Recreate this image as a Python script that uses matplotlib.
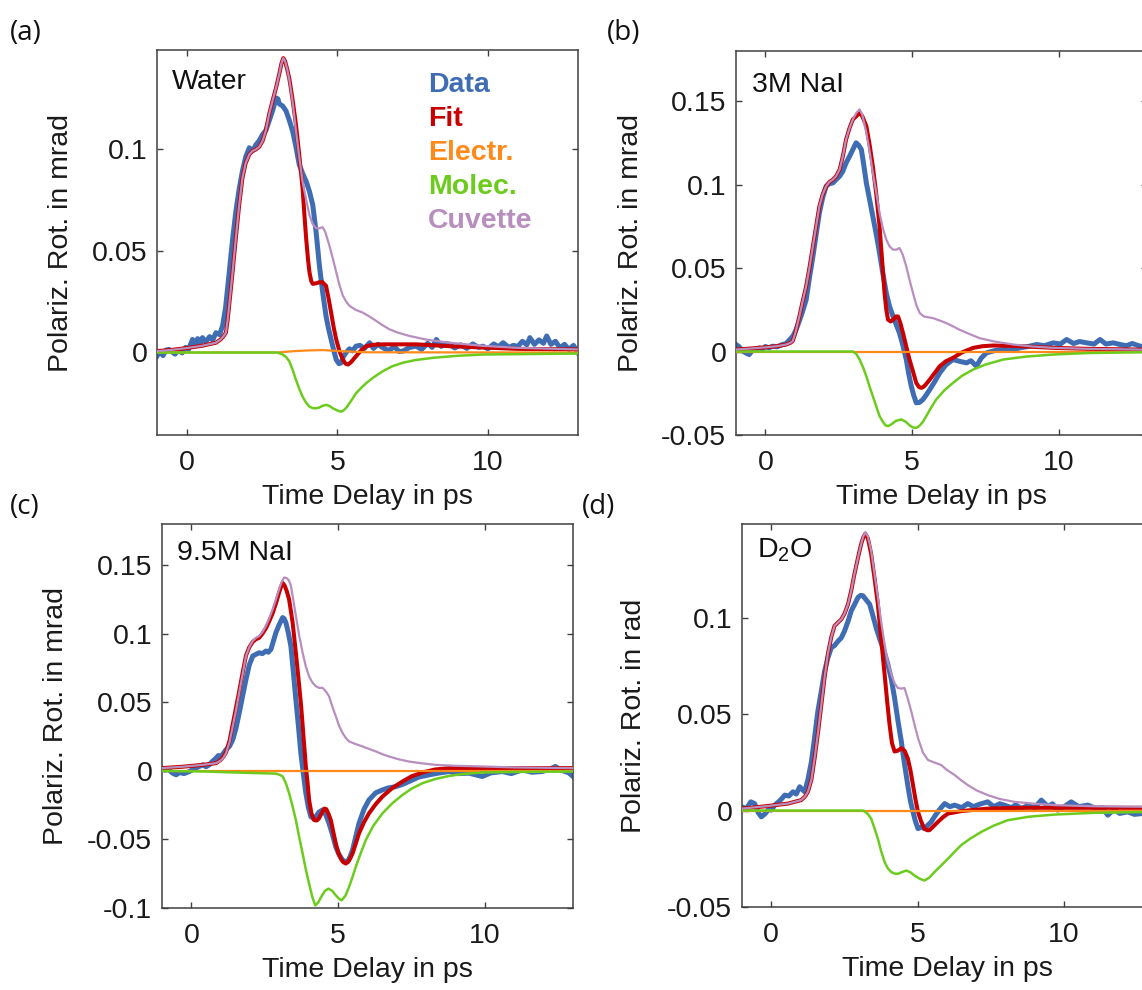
import matplotlib
matplotlib.use("Agg")
import matplotlib.pyplot as plt

plt.rcParams['font.family'] = ['Liberation Sans', 'DejaVu Sans']
plt.rcParams['mathtext.fontset'] = 'custom'
plt.rcParams['mathtext.rm'] = 'Liberation Sans'

# ---------------- Panel (a): Water ----------------
a_t_data = [-1.0, -0.9, -0.8, -0.7, -0.6, -0.5, -0.4, -0.3, -0.16, -0.05, 0.05, 0.18, 0.28, 0.35, 0.45, 0.51,
            0.62, 0.75, 0.85, 0.96, 1.08, 1.18, 1.28, 1.40, 1.51, 1.62, 1.73, 1.84, 1.95, 2.07, 2.18, 2.29,
            2.4, 2.51, 2.62, 2.73, 2.85, 2.96, 3.02, 3.07, 3.18, 3.29, 3.40, 3.51, 3.62, 3.73, 3.84, 3.96,
            4.07, 4.18, 4.29, 4.40, 4.51, 4.62, 4.70, 4.79, 4.88, 4.96, 5.05, 5.12, 5.2, 5.29, 5.4, 5.5,
            5.62, 5.75, 5.9, 6.07, 6.2, 6.35, 6.51, 6.7, 6.9, 7.05, 7.18, 7.4, 7.62, 7.8, 8.0, 8.15, 8.29,
            8.45, 8.6, 8.73, 8.9, 9.1, 9.3, 9.5, 9.7, 9.84, 10.0, 10.2, 10.35, 10.51, 10.7, 10.85, 11.0,
            11.15, 11.3, 11.4, 11.55, 11.7, 11.85, 11.96, 12.1, 12.25, 12.4, 12.55, 12.7, 12.85, 13.0]
a_v_data = [-0.0018, 0.0005, -0.0015, 0.0012, 0.0015, 0.0003, -0.0008, 0.0010, -0.0002, 0.0025, 0.0015, 0.0064,
            0.0040, 0.0068, 0.0045, 0.0073, 0.0052, 0.0078, 0.0060, 0.0097, 0.0088, 0.0130, 0.0220, 0.0390,
            0.0550, 0.0690, 0.0800, 0.0890, 0.0960, 0.1005, 0.0990, 0.1020, 0.1040, 0.1070, 0.1090, 0.1137,
            0.1190, 0.1250, 0.1245, 0.1220, 0.1210, 0.1186, 0.1140, 0.1087, 0.1010, 0.0922, 0.0880, 0.0840,
            0.0790, 0.0724, 0.0592, 0.0427, 0.0295, 0.0180, 0.0120, 0.0064, 0.0010, -0.0035, -0.0055, -0.0051,
            -0.0020, 0.0000, 0.0018, 0.0008, 0.0031, 0.0035, 0.0020, 0.0048, 0.0020, 0.0040, 0.0023, 0.0010,
            0.0028, 0.0005, 0.0007, 0.0025, 0.0031, 0.0015, 0.0045, 0.0025, 0.0064, 0.0030, 0.0045, 0.0040,
            0.0022, 0.0038, 0.0020, 0.0042, 0.0025, 0.0031, 0.0018, 0.0042, 0.0028, 0.0048, 0.0025, 0.0035,
            0.0030, 0.0055, 0.0038, 0.0073, 0.0040, 0.0062, 0.0045, 0.0081, 0.0040, 0.0055, 0.0023, 0.0040,
            0.0015, 0.0035, -0.0002]
a_t_fit = [-1.0, -0.5, 0.0, 0.5, 0.96, 1.1, 1.2, 1.29, 1.35, 1.42, 1.51, 1.62, 1.73, 1.84, 1.95, 2.07, 2.18, 2.29,
           2.4, 2.51, 2.62, 2.73, 2.85, 2.96, 3.07, 3.14, 3.20, 3.26, 3.33, 3.40, 3.51, 3.62, 3.73, 3.84, 3.90,
           3.96, 4.02, 4.07, 4.13, 4.18, 4.3, 4.40, 4.5, 4.62, 4.7, 4.79, 4.88, 4.96, 5.07, 5.18, 5.27, 5.35,
           5.45, 5.62, 5.8, 5.96, 6.2, 6.51, 7.62, 8.73, 10.96, 13.0]
a_v_fit = [0.0007, 0.0013, 0.0022, 0.0033, 0.0048, 0.0062, 0.0078, 0.0097, 0.0160, 0.0260, 0.0390, 0.0560,
           0.0720, 0.0856, 0.0930, 0.0972, 0.0990, 0.0997, 0.1010, 0.1038, 0.1090, 0.1170, 0.1240, 0.1300,
           0.1370, 0.1420, 0.1445, 0.1430, 0.1390, 0.1345, 0.1240, 0.1120, 0.0970, 0.0807, 0.0680, 0.0560,
           0.0460, 0.0394, 0.0350, 0.0337, 0.0340, 0.0345, 0.0345, 0.0328, 0.0270, 0.0196, 0.0120, 0.0064,
           0.0005, -0.0035, -0.0055, -0.0059, -0.0048, -0.0018, 0.0012, 0.0031, 0.0038, 0.0040, 0.0040,
           0.0031, 0.0018, 0.0015]
a_t_elec = [-1.0, 3.0, 3.5, 4.0, 4.5, 5.2, 6.0, 13.0]
a_v_elec = [0.0, 0.0, 0.0006, 0.0010, 0.0012, 0.0006, 0.0001, 0.0]
a_t_mol = [-1.0, 3.0, 3.18, 3.29, 3.40, 3.51, 3.62, 3.73, 3.84, 3.96, 4.07, 4.18, 4.29, 4.4, 4.5, 4.62, 4.73,
           4.85, 4.96, 5.05, 5.12, 5.2, 5.30, 5.40, 5.51, 5.62, 5.8, 5.96, 6.2, 6.51, 6.8, 7.18, 7.6, 8.18,
           9.0, 9.84, 13.0]
a_v_mol = [0.0, 0.0, -0.0010, -0.0022, -0.0043, -0.0085, -0.0134, -0.0178, -0.0216, -0.0247, -0.0266, -0.0273,
           -0.0274, -0.0270, -0.0262, -0.0257, -0.0262, -0.0274, -0.0282, -0.0288, -0.0290, -0.0285, -0.0270,
           -0.0249, -0.0225, -0.0200, -0.0172, -0.0150, -0.0122, -0.0092, -0.0069, -0.0050, -0.0037, -0.0026,
           -0.0016, -0.0010, -0.0005]
a_t_cuv = [-1.0, -0.5, 0.0, 0.5, 0.96, 1.1, 1.2, 1.29, 1.35, 1.42, 1.51, 1.62, 1.73, 1.84, 1.95, 2.07, 2.18, 2.29,
           2.4, 2.51, 2.62, 2.73, 2.85, 2.96, 3.07, 3.14, 3.20, 3.26, 3.33, 3.40, 3.51, 3.62, 3.73, 3.84, 3.96,
           4.07, 4.18, 4.29, 4.40, 4.51, 4.6, 4.73, 4.85, 4.96, 5.07, 5.18, 5.29, 5.40, 5.6, 5.84, 6.05, 6.29,
           6.5, 6.73, 7.0, 7.4, 8.0, 8.73, 9.8, 10.96, 13.0]
a_v_cuv = [0.0007, 0.0013, 0.0022, 0.0033, 0.0048, 0.0062, 0.0078, 0.0097, 0.0160, 0.0260, 0.0390, 0.0560,
           0.0720, 0.0856, 0.0930, 0.0972, 0.0990, 0.0997, 0.1010, 0.1038, 0.1090, 0.1170, 0.1240, 0.1300,
           0.1370, 0.1420, 0.1445, 0.1430, 0.1390, 0.1340, 0.1230, 0.1090, 0.0960, 0.0840, 0.0750, 0.0675,
           0.0630, 0.0610, 0.0610, 0.0615, 0.0590, 0.0526, 0.0460, 0.0394, 0.0330, 0.0279, 0.0250, 0.0229,
           0.0210, 0.0196, 0.0178, 0.0155, 0.0134, 0.0114, 0.0098, 0.0081, 0.0062, 0.0048, 0.0033, 0.0023,
           0.0015]

# ---------------- Panel (b): 3M NaI ----------------
b_t_data = [-1.0, -0.9, -0.77, -0.65, -0.55, -0.45, -0.35, -0.2, -0.1, 0.0, 0.12, 0.25, 0.4, 0.55, 0.71, 0.85,
            0.95, 1.05, 1.15, 1.25, 1.39, 1.5, 1.62, 1.73, 1.84, 1.95, 2.07, 2.18, 2.30, 2.41, 2.53, 2.64, 2.75,
            2.87, 2.98, 3.09, 3.18, 3.27, 3.35, 3.44, 3.55, 3.66, 3.78, 3.89, 4.0, 4.12, 4.23, 4.35, 4.46, 4.57,
            4.68, 4.80, 4.88, 4.97, 5.05, 5.14, 5.25, 5.37, 5.48, 5.60, 5.77, 5.94, 6.15, 6.39, 6.6, 6.85, 7.0,
            7.19, 7.35, 7.53, 7.8, 8.10, 8.4, 8.67, 8.95, 9.24, 9.5, 9.81, 10.05, 10.26, 10.5, 10.7, 10.94, 11.2,
            11.40, 11.6, 11.85, 12.08, 12.3, 12.5, 12.76, 13.0]
b_v_data = [0.0042, 0.0030, 0.0002, -0.0010, -0.0018, 0.0005, 0.0012, 0.0022, 0.0015, 0.0030, 0.0022, 0.0032,
            0.0028, 0.0040, 0.0048, 0.0075, 0.0095, 0.0132, 0.0180, 0.0230, 0.0310, 0.0440, 0.0570, 0.0700,
            0.0830, 0.0920, 0.0990, 0.1005, 0.1010, 0.1030, 0.1050, 0.1080, 0.1130, 0.1170, 0.1210, 0.1250,
            0.1235, 0.1210, 0.1120, 0.1010, 0.0910, 0.0810, 0.0700, 0.0590, 0.0470, 0.0350, 0.0270, 0.0210,
            0.0160, 0.0110, 0.0040, -0.0048, -0.0130, -0.0208, -0.0260, -0.0307, -0.0305, -0.0287, -0.0260,
            -0.0228, -0.0180, -0.0128, -0.0080, -0.0048, -0.0058, -0.0068, -0.0055, -0.0088, -0.0040, -0.0008,
            0.0005, 0.0012, 0.0008, 0.0022, 0.0030, 0.0042, 0.0035, 0.0052, 0.0045, 0.0072, 0.0048, 0.0060,
            0.0052, 0.0045, 0.0072, 0.0045, 0.0052, 0.0042, 0.0035, 0.0048, 0.0032, 0.0030]
b_t_fit = [-1.0, -0.5, 0.0, 0.4, 0.71, 0.85, 0.93, 1.02, 1.16, 1.27, 1.39, 1.5, 1.62, 1.73, 1.84, 1.95, 2.07, 2.18,
           2.30, 2.41, 2.53, 2.64, 2.75, 2.87, 2.98, 3.1, 3.21, 3.3, 3.44, 3.55, 3.66, 3.78, 3.89, 3.98, 4.06,
           4.12, 4.18, 4.27, 4.35, 4.45, 4.52, 4.6, 4.69, 4.8, 4.91, 5.03, 5.14, 5.23, 5.31, 5.4, 5.5, 5.60,
           5.77, 5.94, 6.15, 6.39, 6.7, 7.08, 7.4, 7.76, 8.67, 9.81, 11.0, 13.0]
b_v_fit = [0.0012, 0.0018, 0.0025, 0.0032, 0.0042, 0.0052, 0.0062, 0.0110, 0.0212, 0.0300, 0.0391, 0.0500,
           0.0631, 0.0750, 0.0870, 0.0940, 0.0990, 0.1015, 0.1030, 0.1050, 0.1090, 0.1170, 0.1270, 0.1340,
           0.1390, 0.1410, 0.1430, 0.1410, 0.1350, 0.1240, 0.1110, 0.0940, 0.0750, 0.0540, 0.0350, 0.0250,
           0.0190, 0.0180, 0.0190, 0.0210, 0.0210, 0.0170, 0.0110, 0.0030, -0.0048, -0.0120, -0.0188, -0.0212,
           -0.0218, -0.0210, -0.0190, -0.0168, -0.0128, -0.0088, -0.0058, -0.0038, -0.0005, 0.0022, 0.0032,
           0.0036, 0.0032, 0.0022, 0.0016, 0.0011]
b_t_elec = [-1.0, 13.0]
b_v_elec = [0.0, 0.0]
b_t_mol = [-1.0, 2.98, 3.1, 3.21, 3.33, 3.44, 3.55, 3.66, 3.78, 3.89, 4.0, 4.09, 4.18, 4.3, 4.45, 4.63, 4.78,
           4.92, 5.03, 5.14, 5.25, 5.37, 5.48, 5.65, 5.82, 6.1, 6.39, 6.7, 7.08, 7.5, 8.10, 8.9, 9.81, 11.0, 13.0]
b_v_mol = [0.0, 0.0, -0.0015, -0.0048, -0.0095, -0.0148, -0.0210, -0.0267, -0.0330, -0.0387, -0.0420, -0.0442,
           -0.0447, -0.0435, -0.0415, -0.0407, -0.0420, -0.0443, -0.0455, -0.0457, -0.0445, -0.0420, -0.0387,
           -0.0335, -0.0287, -0.0232, -0.0188, -0.0145, -0.0108, -0.0078, -0.0048, -0.0030, -0.0018, -0.0009,
           -0.0004]
b_t_cuv = [-1.0, -0.5, 0.0, 0.4, 0.71, 0.85, 0.93, 1.02, 1.16, 1.27, 1.39, 1.5, 1.62, 1.73, 1.84, 1.95, 2.07, 2.18,
           2.30, 2.41, 2.53, 2.64, 2.75, 2.87, 2.98, 3.1, 3.21, 3.3, 3.44, 3.55, 3.66, 3.78, 3.89, 4.0, 4.12,
           4.23, 4.35, 4.46, 4.57, 4.68, 4.80, 4.91, 5.03, 5.14, 5.26, 5.4, 5.71, 5.95, 6.17, 6.4, 6.62, 6.95,
           7.30, 7.8, 8.44, 9.1, 9.81, 11.0, 13.0]
b_v_cuv = [0.0012, 0.0018, 0.0025, 0.0032, 0.0042, 0.0052, 0.0062, 0.0110, 0.0212, 0.0300, 0.0391, 0.0500,
           0.0631, 0.0750, 0.0870, 0.0940, 0.0990, 0.1015, 0.1030, 0.1050, 0.1090, 0.1170, 0.1270, 0.1340,
           0.1390, 0.1430, 0.1450, 0.1420, 0.1310, 0.1200, 0.1070, 0.0950, 0.0830, 0.0740, 0.0670, 0.0630,
           0.0610, 0.0610, 0.0620, 0.0580, 0.0510, 0.0430, 0.0350, 0.0280, 0.0230, 0.0210, 0.0200, 0.0185,
           0.0170, 0.0150, 0.0130, 0.0105, 0.0080, 0.0060, 0.0042, 0.0030, 0.0022, 0.0016, 0.0011]

# ---------------- Panel (c): 9.5M NaI ----------------
c_t_data = [-1.0, -0.9, -0.8, -0.65, -0.52, -0.4, -0.25, -0.07, 0.05, 0.2, 0.39, 0.5, 0.61, 0.72, 0.84, 0.92,
            1.01, 1.1, 1.18, 1.3, 1.41, 1.52, 1.63, 1.75, 1.86, 1.97, 2.09, 2.2, 2.31, 2.42, 2.54, 2.62, 2.71,
            2.8, 2.88, 3.0, 3.11, 3.16, 3.22, 3.3, 3.39, 3.47, 3.56, 3.65, 3.73, 3.82, 3.90, 3.98, 4.07, 4.15,
            4.24, 4.35, 4.47, 4.58, 4.69, 4.8, 4.92, 5.03, 5.15, 5.24, 5.32, 5.4, 5.49, 5.6, 5.71, 5.88, 6.05,
            6.28, 6.51, 6.7, 6.96, 7.2, 7.41, 7.75, 8.10, 8.45, 8.78, 9.1, 9.46, 9.7, 9.91, 10.2, 10.59, 10.9,
            11.27, 11.6, 11.95, 12.2, 12.40, 12.6, 12.86, 13.0]
c_v_data = [0.0020, 0.0005, 0.0015, -0.0015, -0.0029, -0.0012, -0.0020, -0.0005, 0.0010, 0.0025, 0.0044, 0.0030,
            0.0044, 0.0070, 0.0093, 0.0112, 0.0105, 0.0130, 0.0154, 0.0180, 0.0227, 0.0310, 0.0422, 0.0550,
            0.0666, 0.0770, 0.0837, 0.0850, 0.0861, 0.0855, 0.0874, 0.0865, 0.0886, 0.0950, 0.1008, 0.1070,
            0.1118, 0.1110, 0.1081, 0.1010, 0.0910, 0.0730, 0.0520, 0.0320, 0.0129, -0.0030, -0.0163, -0.0260,
            -0.0334, -0.0345, -0.0334, -0.0300, -0.0285, -0.0320, -0.0383, -0.0460, -0.0554, -0.0610, -0.0651,
            -0.0660, -0.0664, -0.0630, -0.0578, -0.0480, -0.0383, -0.0280, -0.0212, -0.0160, -0.0139, -0.0125,
            -0.0115, -0.0098, -0.0078, -0.0045, -0.0029, -0.0015, -0.0005, -0.0020, -0.0017, -0.0030, -0.0041,
            -0.0015, -0.0005, -0.0020, 0.0007, -0.0010, -0.0005, 0.0012, 0.0032, 0.0005, -0.0015, -0.0041]
c_t_fit = [-1.0, -0.3, 0.39, 0.84, 1.0, 1.1, 1.18, 1.3, 1.41, 1.52, 1.63, 1.75, 1.86, 1.97, 2.09, 2.2, 2.31, 2.42,
           2.54, 2.65, 2.77, 2.88, 2.99, 3.05, 3.11, 3.18, 3.25, 3.33, 3.45, 3.56, 3.65, 3.74, 3.82, 3.90, 3.96,
           4.01, 4.09, 4.18, 4.27, 4.35, 4.46, 4.53, 4.6, 4.68, 4.75, 4.84, 4.92, 5.0, 5.09, 5.17, 5.26, 5.37,
           5.49, 5.6, 5.71, 5.88, 6.05, 6.28, 6.51, 6.85, 7.19, 7.5, 7.87, 8.3, 8.78, 13.0]
c_v_fit = [0.0020, 0.0030, 0.0044, 0.0056, 0.0080, 0.0105, 0.0135, 0.0220, 0.0340, 0.0460, 0.0580, 0.0720,
           0.0840, 0.0900, 0.0940, 0.0960, 0.0970, 0.1000, 0.1040, 0.1090, 0.1150, 0.1220, 0.1300, 0.1340,
           0.1370, 0.1350, 0.1310, 0.1250, 0.1080, 0.0861, 0.0670, 0.0471, 0.0250, 0.0032, -0.0090, -0.0212,
           -0.0310, -0.0359, -0.0362, -0.0346, -0.0300, -0.0275, -0.0280, -0.0318, -0.0359, -0.0450, -0.0530,
           -0.0595, -0.0639, -0.0665, -0.0676, -0.0655, -0.0603, -0.0530, -0.0456, -0.0375, -0.0310, -0.0243,
           -0.0187, -0.0125, -0.0078, -0.0040, -0.0012, 0.0010, 0.0020, 0.0020]
c_t_elec = [-1.0, 13.0]
c_v_elec = [0.0, 0.0]
c_t_mol = [-1.0, 0.5, 1.5, 2.5, 2.88, 3.0, 3.11, 3.22, 3.33, 3.45, 3.56, 3.67, 3.79, 3.9, 4.01, 4.12, 4.22, 4.32,
           4.42, 4.55, 4.67, 4.8, 4.92, 5.02, 5.12, 5.25, 5.37, 5.48, 5.60, 5.77, 5.94, 6.2, 6.51, 6.85, 7.19,
           7.5, 7.87, 8.3, 8.78, 9.3, 9.91, 11.0, 13.0]
c_v_mol = [0.0, -0.0005, -0.0012, -0.0018, -0.0020, -0.0028, -0.0041, -0.0090, -0.0163, -0.0260, -0.0359,
           -0.0480, -0.0603, -0.0720, -0.0822, -0.0920, -0.0981, -0.0960, -0.0920, -0.0875, -0.0859, -0.0875,
           -0.0908, -0.0930, -0.0944, -0.0910, -0.0847, -0.0780, -0.0700, -0.0600, -0.0505, -0.0400, -0.0310,
           -0.0235, -0.0176, -0.0130, -0.0090, -0.0060, -0.0037, -0.0022, -0.0012, -0.0008, -0.0005]
c_t_cuv = [-1.0, -0.3, 0.39, 0.84, 1.0, 1.1, 1.18, 1.3, 1.41, 1.52, 1.63, 1.75, 1.86, 1.97, 2.09, 2.2, 2.31, 2.42,
           2.54, 2.65, 2.77, 2.88, 2.99, 3.08, 3.16, 3.25, 3.32, 3.39, 3.47, 3.56, 3.67, 3.79, 3.9, 4.01, 4.12,
           4.24, 4.35, 4.47, 4.58, 4.69, 4.8, 4.92, 5.03, 5.15, 5.26, 5.37, 5.6, 5.83, 6.05, 6.28, 6.5, 6.73,
           7.05, 7.41, 7.85, 8.32, 9.0, 9.91, 11.0, 13.0]
c_v_cuv = [0.0020, 0.0030, 0.0044, 0.0056, 0.0075, 0.0098, 0.0129, 0.0210, 0.0325, 0.0440, 0.0569, 0.0710,
           0.0837, 0.0900, 0.0947, 0.0970, 0.0983, 0.1010, 0.1057, 0.1110, 0.1179, 0.1250, 0.1325, 0.1380,
           0.1410, 0.1405, 0.1390, 0.1350, 0.1250, 0.1130, 0.0990, 0.0861, 0.0760, 0.0690, 0.0645, 0.0617,
           0.0605, 0.0605, 0.0580, 0.0544, 0.0470, 0.0398, 0.0330, 0.0276, 0.0240, 0.0215, 0.0195, 0.0178,
           0.0160, 0.0142, 0.0122, 0.0105, 0.0085, 0.0068, 0.0055, 0.0044, 0.0037, 0.0032, 0.0025, 0.0020]

# ---------------- Panel (d): D2O ----------------
d_t_data = [-1.0, -0.85, -0.7, -0.57, -0.45, -0.34, -0.2, -0.1, 0.0, 0.12, 0.25, 0.35, 0.46, 0.6, 0.74, 0.85,
            0.97, 1.05, 1.14, 1.25, 1.37, 1.48, 1.59, 1.71, 1.82, 1.93, 2.05, 2.16, 2.28, 2.39, 2.50, 2.62, 2.73,
            2.85, 2.96, 3.05, 3.13, 3.25, 3.36, 3.47, 3.58, 3.7, 3.81, 3.9, 3.98, 4.1, 4.21, 4.32, 4.44, 4.55,
            4.66, 4.75, 4.84, 4.92, 5.01, 5.12, 5.23, 5.35, 5.46, 5.58, 5.69, 5.8, 5.92, 6.1, 6.26, 6.5, 6.71,
            6.9, 7.1, 7.39, 7.6, 7.8, 7.96, 8.2, 8.35, 8.53, 8.75, 9.0, 9.22, 9.45, 9.6, 9.78, 10.0, 10.24, 10.5,
            10.81, 11.1, 11.3, 11.49, 11.7, 11.9, 12.17, 12.4, 12.63, 12.8, 13.0]
d_v_data = [0.0019, 0.0010, 0.0045, 0.0036, -0.0010, -0.0033, -0.0015, 0.0005, 0.0002, 0.0028, 0.0045, 0.0060,
            0.0080, 0.0075, 0.0097, 0.0085, 0.0123, 0.0110, 0.0097, 0.0160, 0.0253, 0.0380, 0.0514, 0.0620,
            0.0722, 0.0790, 0.0844, 0.0855, 0.0878, 0.0895, 0.0930, 0.0980, 0.1035, 0.1070, 0.1104, 0.1115,
            0.1113, 0.1090, 0.1069, 0.1010, 0.0948, 0.0890, 0.0844, 0.0800, 0.0757, 0.0680, 0.0583, 0.0470,
            0.0358, 0.0240, 0.0132, 0.0050, -0.0007, -0.0055, -0.0094, -0.0085, -0.0094, -0.0075, -0.0059,
            -0.0030, -0.0007, 0.0015, 0.0036, 0.0020, 0.0028, 0.0015, 0.0036, 0.0020, 0.0032, 0.0045, 0.0020,
            0.0035, 0.0028, 0.0015, 0.0030, 0.0010, 0.0025, 0.0015, 0.0054, 0.0020, 0.0035, 0.0002, 0.0020,
            0.0045, 0.0020, 0.0028, 0.0010, 0.0015, -0.0024, 0.0005, -0.0015, -0.0007, -0.0020, -0.0016, 0.0005,
            -0.0010]
d_t_fit = [-1.0, -0.2, 0.57, 1.02, 1.15, 1.25, 1.37, 1.48, 1.6, 1.71, 1.82, 1.93, 2.05, 2.16, 2.28, 2.39, 2.5,
           2.62, 2.73, 2.84, 2.96, 3.07, 3.14, 3.21, 3.3, 3.41, 3.52, 3.64, 3.75, 3.87, 3.96, 4.04, 4.12, 4.21,
           4.32, 4.44, 4.55, 4.66, 4.75, 4.84, 4.92, 5.01, 5.12, 5.23, 5.32, 5.40, 5.55, 5.69, 5.86, 6.03, 6.48,
           7.39, 8.53, 13.0]
d_v_fit = [0.0010, 0.0022, 0.0036, 0.0054, 0.0072, 0.0097, 0.0160, 0.0271, 0.0410, 0.0549, 0.0690, 0.0809,
           0.0900, 0.0957, 0.0975, 0.0991, 0.1020, 0.1069, 0.1140, 0.1226, 0.1310, 0.1382, 0.1415, 0.1435,
           0.1410, 0.1330, 0.1210, 0.1069, 0.0890, 0.0705, 0.0560, 0.0444, 0.0350, 0.0306, 0.0310, 0.0323,
           0.0310, 0.0271, 0.0210, 0.0132, 0.0060, -0.0007, -0.0058, -0.0094, -0.0102, -0.0102, -0.0080,
           -0.0059, -0.0035, -0.0016, -0.0003, 0.0010, 0.0014, 0.0014]
d_t_elec = [-1.0, 13.0]
d_v_elec = [0.0, 0.0]
d_t_mol = [-1.0, 3.13, 3.21, 3.31, 3.41, 3.52, 3.64, 3.75, 3.87, 3.98, 4.10, 4.21, 4.32, 4.45, 4.61, 4.75, 4.89,
           5.05, 5.23, 5.4, 5.57, 5.8, 6.03, 6.25, 6.48, 6.8, 7.17, 7.6, 8.08, 8.8, 9.67, 11.0, 13.0]
d_v_mol = [0.0, 0.0, -0.0007, -0.0020, -0.0042, -0.0090, -0.0146, -0.0210, -0.0267, -0.0300, -0.0319, -0.0327,
           -0.0328, -0.0320, -0.0311, -0.0320, -0.0337, -0.0352, -0.0363, -0.0347, -0.0319, -0.0285, -0.0250,
           -0.0215, -0.0180, -0.0145, -0.0111, -0.0078, -0.0050, -0.0032, -0.0021, -0.0012, -0.0007]
d_t_cuv = [-1.0, -0.2, 0.57, 1.02, 1.15, 1.25, 1.37, 1.48, 1.6, 1.71, 1.82, 1.93, 2.05, 2.16, 2.28, 2.39, 2.5,
           2.62, 2.73, 2.84, 2.96, 3.07, 3.14, 3.21, 3.3, 3.41, 3.52, 3.64, 3.75, 3.87, 3.98, 4.10, 4.21, 4.32,
           4.44, 4.55, 4.66, 4.78, 4.9, 5.01, 5.18, 5.35, 5.55, 5.80, 6.0, 6.26, 6.5, 6.71, 7.0, 7.39, 7.8, 8.30,
           9.0, 9.67, 11.0, 13.0]
d_v_cuv = [0.0010, 0.0022, 0.0036, 0.0054, 0.0072, 0.0097, 0.0160, 0.0271, 0.0410, 0.0549, 0.0690, 0.0809,
           0.0900, 0.0957, 0.0975, 0.0991, 0.1020, 0.1069, 0.1140, 0.1226, 0.1310, 0.1382, 0.1420, 0.1443,
           0.1420, 0.1347, 0.1230, 0.1104, 0.0980, 0.0861, 0.0770, 0.0705, 0.0660, 0.0635, 0.0632, 0.0635,
           0.0580, 0.0514, 0.0440, 0.0375, 0.0300, 0.0262, 0.0250, 0.0236, 0.0210, 0.0184, 0.0155, 0.0132,
           0.0105, 0.0080, 0.0060, 0.0045, 0.0035, 0.0028, 0.0022, 0.0019]

panel_letters = ["(a)", "(b)", "(c)", "(d)"]
sample_names = ["Water", "3M NaI", "9.5M NaI", "D$_2$O"]
y_labels = ["Polariz. Rot. in mrad", "Polariz. Rot. in mrad", "Polariz. Rot. in mrad", "Polariz. Rot. in rad"]
x_label = "Time Delay in ps"
legend_names = ["Data", "Fit", "Electr.", "Molec.", "Cuvette"]
x_ticks = [0, 5, 10]
y_ticks = [[0, 0.05, 0.1], [-0.05, 0, 0.05, 0.1, 0.15], [-0.1, -0.05, 0, 0.05, 0.1, 0.15], [-0.05, 0, 0.05, 0.1]]
y_ticklabels = [["0", "0.05", "0.1"], ["-0.05", "0", "0.05", "0.1", "0.15"],
                ["-0.1", "-0.05", "0", "0.05", "0.1", "0.15"], ["-0.05", "0", "0.05", "0.1"]]
y_limits = [(-0.0405, 0.1485), (-0.05, 0.18), (-0.1, 0.18), (-0.05, 0.1485)]

C_DATA = "#3f6db3"
C_FIT = "#c80000"
C_ELEC = "#ff8a1a"
C_MOL = "#6ccc1e"
C_CUV = "#b88ebf"

W, H = 1142, 990
fig = plt.figure(figsize=(W / 100, H / 100), dpi=100)

# axes rectangles in pixels: left, top, right, bottom
rects = [(157, 50, 578, 435), (736, 51, 1147, 435), (162, 524, 573, 908), (742, 524, 1152, 907)]
ylabel_x = [-0.198, -0.224, -0.226, -0.232]
letter_pos = [(10, 33), (607, 33), (10, 507), (582, 507)]
name_pos = [(172, 82), (752, 85), (177, 553), (757, 550)]

series = [
    (a_t_data, a_v_data, a_t_fit, a_v_fit, a_t_elec, a_v_elec, a_t_mol, a_v_mol, a_t_cuv, a_v_cuv),
    (b_t_data, b_v_data, b_t_fit, b_v_fit, b_t_elec, b_v_elec, b_t_mol, b_v_mol, b_t_cuv, b_v_cuv),
    (c_t_data, c_v_data, c_t_fit, c_v_fit, c_t_elec, c_v_elec, c_t_mol, c_v_mol, c_t_cuv, c_v_cuv),
    (d_t_data, d_v_data, d_t_fit, d_v_fit, d_t_elec, d_v_elec, d_t_mol, d_v_mol, d_t_cuv, d_v_cuv),
]

FS = 20.5
spine_c = "#404040"
for i in range(4):
    l, t, r, b = rects[i]
    ax = fig.add_axes([l / W, 1 - b / H, (r - l) / W, (b - t) / H])
    td, vd, tf, vf, te, ve, tm, vm, tc, vc = series[i]
    ax.plot(td, vd, color=C_DATA, lw=3.6, solid_joinstyle='round', zorder=2)
    ax.plot(tf, vf, color=C_FIT, lw=2.9, solid_joinstyle='round', zorder=3)
    ax.plot(te, ve, color=C_ELEC, lw=1.6, zorder=4)
    ax.plot(tm, vm, color=C_MOL, lw=1.8, solid_joinstyle='round', zorder=5)
    ax.plot(tc, vc, color=C_CUV, lw=1.6, solid_joinstyle='round', zorder=6)
    ax.set_xlim(-1, 13)
    ax.set_ylim(*y_limits[i])
    ax.set_xticks(x_ticks)
    ax.set_xticklabels([str(v) for v in x_ticks])
    ax.set_yticks(y_ticks[i])
    ax.set_yticklabels(y_ticklabels[i])
    ax.tick_params(direction='in', top=True, right=True, length=4.5, width=1.0, color=spine_c,
                   labelsize=FS, labelcolor='#1a1a1a')
    ax.tick_params(axis='x', pad=10.5)
    ax.tick_params(axis='y', pad=7)
    for sp in ax.spines.values():
        sp.set_color(spine_c)
        sp.set_linewidth(1.1)
    ax.set_xlabel(x_label, fontsize=FS, color='#1a1a1a', va='top')
    ax.xaxis.set_label_coords(0.5, -0.128)
    ax.set_ylabel(y_labels[i], fontsize=FS, color='#1a1a1a')
    ax.yaxis.set_label_coords(ylabel_x[i], 0.5)
    nx, ny = name_pos[i]
    fig.text(nx / W, 1 - ny / H, sample_names[i], fontsize=FS, color='#111111', ha='left', va='center')
    lx, ly = letter_pos[i]
    fig.text(lx / W, 1 - ly / H, panel_letters[i], fontsize=20, color='#111111', ha='left', va='center',
             family=['Open Sans', 'DejaVu Sans'])
    if i == 0:
        leg_colors = [C_DATA, C_FIT, C_ELEC, C_MOL, C_CUV]
        for k, name in enumerate(legend_names):
            fig.text(428 / W, 1 - (85 + 34 * k) / H, name, fontsize=FS, fontweight='bold',
                     color=leg_colors[k], ha='left', va='center')

fig.savefig("out.png", dpi=100)
